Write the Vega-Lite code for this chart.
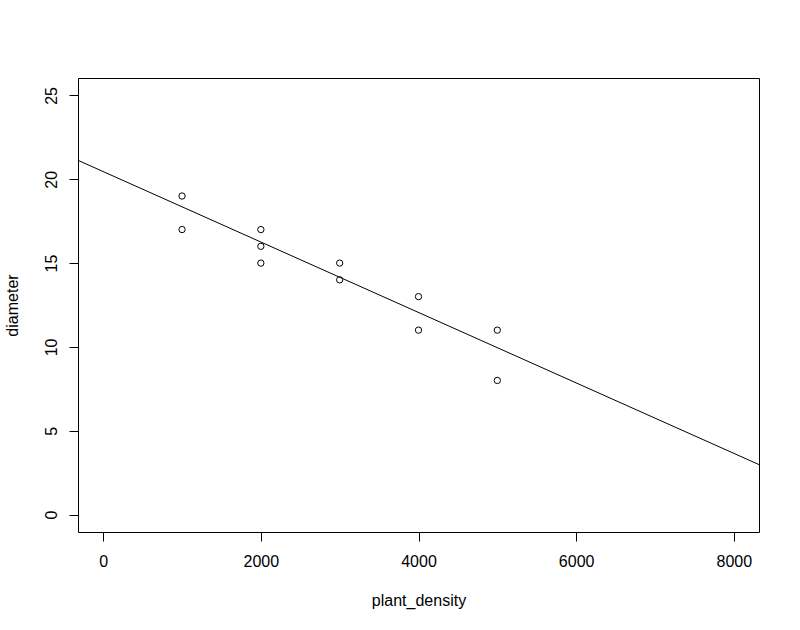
{
  "$schema": "https://vega.github.io/schema/vega-lite/v6.json",
  "autosize": "none",
  "width": 681,
  "height": 454,
  "padding": {"left": 78, "top": 78, "right": 41, "bottom": 98},
  "background": "white",
  "config": {
    "view": {"stroke": "black", "strokeWidth": 1},
    "font": "Liberation Sans",
    "axis": {
      "domain": false,
      "grid": false,
      "tickColor": "black",
      "tickSize": 9,
      "tickWidth": 1,
      "labelFont": "Liberation Sans",
      "labelFontSize": 16,
      "labelColor": "black",
      "titleFont": "Liberation Sans",
      "titleFontSize": 16,
      "titleFontWeight": "normal",
      "titleColor": "black"
    }
  },
  "datasets": {
    "pts": [
      {"plant_density": 1000, "diameter": 19},
      {"plant_density": 1000, "diameter": 17},
      {"plant_density": 2000, "diameter": 17},
      {"plant_density": 2000, "diameter": 16},
      {"plant_density": 2000, "diameter": 15},
      {"plant_density": 3000, "diameter": 15},
      {"plant_density": 3000, "diameter": 14},
      {"plant_density": 4000, "diameter": 13},
      {"plant_density": 4000, "diameter": 11},
      {"plant_density": 5000, "diameter": 11},
      {"plant_density": 5000, "diameter": 8}
    ],
    "fit": [
      {"plant_density": -320, "diameter": 21.13},
      {"plant_density": 8320, "diameter": 2.98}
    ]
  },
  "layer": [
    {
      "data": {"name": "fit"},
      "mark": {"type": "line", "color": "black", "strokeWidth": 1, "clip": true},
      "encoding": {
        "x": {"field": "plant_density", "type": "quantitative",
              "scale": {"domain": [-320, 8320], "nice": false, "zero": false},
              "axis": {"values": [0, 2000, 4000, 6000, 8000], "format": "d", "labelPadding": 12, "title": "plant_density", "titlePadding": 23}},
        "y": {"field": "diameter", "type": "quantitative",
              "scale": {"domain": [-1.04, 26.04], "nice": false, "zero": false},
              "axis": {"values": [0, 5, 10, 15, 20, 25], "labelAngle": -90, "labelAlign": "center", "labelBaseline": "bottom", "labelPadding": 10, "title": "diameter", "titlePadding": 23}}
      }
    },
    {
      "data": {"name": "pts"},
      "mark": {"type": "point", "shape": "circle", "filled": false, "color": "black", "strokeWidth": 1, "size": 40, "opacity": 1},
      "encoding": {
        "x": {"field": "plant_density", "type": "quantitative"},
        "y": {"field": "diameter", "type": "quantitative"}
      }
    }
  ]
}
